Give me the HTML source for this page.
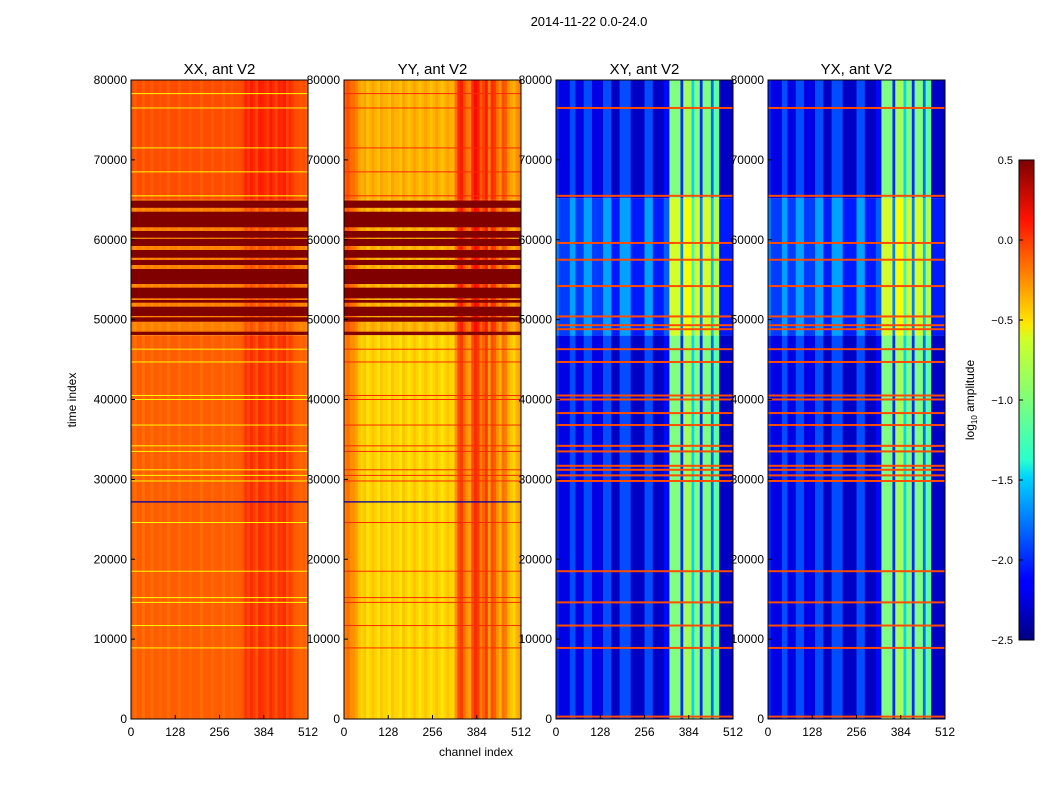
<!DOCTYPE html>
<html><head><meta charset="utf-8"><style>
body{margin:0;background:#fff;width:1050px;height:800px;overflow:hidden}
svg text{font-family:"Liberation Sans",sans-serif}
</style></head><body>
<svg id="fig" width="1050" height="800" xmlns="http://www.w3.org/2000/svg">
<rect width="1050" height="800" fill="#fff"/>
<text x="589" y="26" font-size="13" text-anchor="middle">2014-11-22 0.0-24.0</text>
<g id="panels"></g>
<g id="labels"></g>
<defs><linearGradient id="jet" x1="0" y1="1" x2="0" y2="0">
<stop offset="0" stop-color="#00007f"/><stop offset="0.11" stop-color="#0000ff"/><stop offset="0.125" stop-color="#0000ff"/>
<stop offset="0.34" stop-color="#00d4ff"/><stop offset="0.375" stop-color="#29ffce"/><stop offset="0.5" stop-color="#7dff7a"/>
<stop offset="0.625" stop-color="#ceff29"/><stop offset="0.66" stop-color="#ffe600"/><stop offset="0.875" stop-color="#ff1300"/>
<stop offset="1" stop-color="#7f0000"/></linearGradient></defs>
<rect x="1019" y="160" width="15" height="480" fill="url(#jet)" stroke="#000"/>
<g id="cbar"></g>
<text transform="translate(974,400) rotate(-90)" font-size="12" text-anchor="middle">log<tspan font-size="8" dy="3">10</tspan><tspan dy="-3"> amplitude</tspan></text>
<text transform="translate(76,400) rotate(-90)" font-size="12" text-anchor="middle">time index</text>
<text x="476" y="756" font-size="12" text-anchor="middle">channel index</text>
</svg>
<script>
const titles=["XX, ant V2","YY, ant V2","XY, ant V2","YX, ant V2"];
const xTicks=[0,128,256,384,512];
const yTicks=[0,10000,20000,30000,40000,50000,60000,70000,80000];
const cbTicks=[0.5,0.0,-0.5,-1.0,-1.5,-2.0,-2.5];
const colXX=[-0.15,-0.2,-0.15,-0.15,-0.2,-0.15,-0.15,-0.2,-0.15,-0.15,-0.18,-0.15,-0.15,-0.2,-0.15,-0.15,-0.15,-0.2,-0.15,-0.15,-0.15,-0.18,-0.15,-0.15,-0.15,-0.2,-0.15,-0.15,-0.15,-0.18,-0.15,-0.15,-0.15,-0.2,-0.15,-0.15,-0.18,-0.15,-0.15,-0.15,-0.12,-0.02,-0.08,0.0,-0.05,-0.12,0.0,-0.02,-0.05,-0.1,0.0,-0.05,-0.12,-0.02,-0.05,0.0,-0.12,-0.05,-0.1,-0.15,-0.15,-0.18,-0.15,-0.2];
const colYY=[-0.25,-0.2,-0.3,-0.3,-0.35,-0.45,-0.5,-0.45,-0.55,-0.5,-0.45,-0.5,-0.55,-0.45,-0.5,-0.5,-0.55,-0.45,-0.5,-0.5,-0.55,-0.45,-0.5,-0.55,-0.5,-0.45,-0.5,-0.55,-0.5,-0.45,-0.5,-0.55,-0.5,-0.45,-0.5,-0.55,-0.5,-0.45,-0.5,-0.5,-0.3,-0.1,-0.05,-0.2,-0.3,-0.35,-0.1,0.0,-0.05,-0.25,-0.15,-0.05,-0.35,-0.1,-0.15,-0.3,-0.4,-0.2,-0.25,-0.4,-0.45,-0.5,-0.4,-0.35];
const colCross=[-2.0,-2.2,-2.2,-2.2,-2.2,-1.9,-1.9,-2.2,-2.2,-2.2,-1.9,-1.9,-1.9,-2.2,-2.2,-2.2,-2.2,-1.9,-1.9,-1.9,-2.3,-2.3,-2.3,-1.9,-1.9,-1.9,-1.9,-2.3,-2.3,-2.3,-2.3,-2.3,-1.9,-1.9,-1.9,-2.3,-2.3,-2.3,-2.3,-2.1,-2.1,-1.0,-1.0,-1.0,-1.0,-2.0,-0.9,-0.9,-0.9,-1.5,-1.0,-1.0,-2.0,-1.0,-1.0,-1.0,-1.8,-1.1,-1.1,-2.3,-2.3,-2.3,-2.3,-2.3];
const autoBandStart=[48080,49740,50460,52120,52670,54460,56840,57750,59220,60260,61560,64000];
const autoBandEnd=[48490,50290,51620,52460,54000,56340,57470,58720,60100,61100,63510,64900];
const crossNoiseStart=[48000];
const crossNoiseEnd=[65200];
const crossLines=[300,8900,11700,14600,18500,29800,30500,31200,31700,33500,34200,36800,38300,40000,40500,44700,46300,48800,49300,50400,54200,57500,59600,65500,76500];
const autoLines=[8900,11700,14600,15200,18500,24600,29800,30500,31200,33500,34200,36800,40000,40500,44700,46300,65500,68500,71500,76500,78300];
const blueLines=[27200];
const P=[{x:131,col:colXX,hi:0.05,band:-0.1,lineV:-0.6},{x:344,col:colYY,hi:0.1,band:0.1,lineV:0.0},{x:556,col:colCross,hi:0,lineV:-0.1},{x:768,col:colCross,hi:0,lineV:-0.1}];
const W=177,T=80,H=639,NS="http://www.w3.org/2000/svg";
function jet(v){let x=(v+2.5)/3;x=Math.max(0,Math.min(1,x));
 const c=t=>Math.round(255*Math.max(0,Math.min(1,1.5-Math.abs(4*x-t))));
 return `rgb(${c(3)},${c(2)},${c(1)})`;}
const sx=ch=>W*ch/512, sy=t=>T+H-H*t/80000;
function el(tag,attrs,parent){const e=document.createElementNS(NS,tag);for(const k in attrs)e.setAttribute(k,attrs[k]);parent.appendChild(e);return e;}
const pg=document.getElementById('panels'),lg=document.getElementById('labels');
P.forEach((p,i)=>{
 const g=el('g',{transform:`translate(${p.x},0)`},pg);
 
 
 const n=p.col.length,cw=512/n;
 const regions=i<2?[[0,48000,0],[48000,65000,p.band],[65000,80000,p.hi]]:[[0,crossNoiseStart[0],0],[crossNoiseStart[0],crossNoiseEnd[0],0.25],[crossNoiseEnd[0],80000,0]];
 regions.forEach(r=>{p.col.forEach((v,c)=>{
  const x0=sx(c*cw),x1=sx((c+1)*cw);
  const rc=el('rect',{x:x0,y:sy(r[1]),width:x1-x0+0.4,height:sy(r[0])-sy(r[1]),fill:jet(v+r[2])},g);
  
  
 });});
 if(i<2){autoBandStart.forEach((s,k)=>{
  const b=el('rect',{x:0,y:sy(autoBandEnd[k]),width:W,height:sy(s)-sy(autoBandEnd[k]),fill:jet(0.5)},g);
  
  });
  autoLines.forEach(t=>{const l=el('rect',{x:0,y:sy(t)-0.5,width:W,height:1,fill:jet(p.lineV)},g);
  
  });
  blueLines.forEach(t=>{const l=el('rect',{x:0,y:sy(t)-0.5,width:W,height:1.3,fill:jet(-2.4)},g);
  
  });
 } else {
  crossLines.forEach(t=>{const l=el('rect',{x:0,y:sy(t)-1,width:W,height:2,fill:jet(p.lineV)},g);
  
  });
 }
 const fr=el('rect',{x:0,y:T,width:W,height:H,fill:'none',stroke:'#000','stroke-width':1},g);
 
 
 const tt=el('text',{x:p.x+W/2,y:T-6,'font-size':15,'text-anchor':'middle'},lg);tt.textContent=titles[i];
 
 
 xTicks.forEach(v=>{const t=el('text',{x:p.x+sx(v),y:T+H+17,'font-size':12,'text-anchor':'middle'},lg);t.textContent=v;
  
  
  el('line',{x1:p.x+sx(v),x2:p.x+sx(v),y1:T+H,y2:T+H-4,stroke:'#000'},lg);});
 yTicks.forEach(v=>{const t=el('text',{x:p.x-4,y:sy(v)+4,'font-size':12,'text-anchor':'end'},lg);t.textContent=v;
  
  
  el('line',{x1:p.x,x2:p.x+4,y1:sy(v),y2:sy(v),stroke:'#000'},lg);});
});
const cb=document.getElementById('cbar');
cbTicks.forEach(v=>{const y=160+480*(0.5-v)/3;
 const t=el('text',{x:1013,y:y+4,'font-size':11,'text-anchor':'end'},cb);t.textContent=v.toFixed(1).replace('-','\u2212');
 
 
 el('line',{x1:1019,x2:1023,y1:y,y2:y,stroke:'#000'},cb);});
</script>
</body></html>
